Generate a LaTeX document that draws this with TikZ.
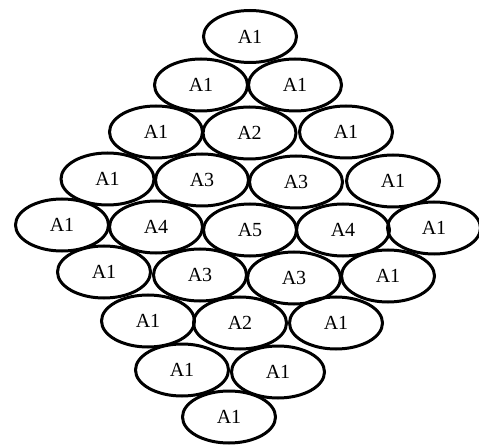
\documentclass[tikz,border=0pt]{standalone}
\usepackage{fontspec}
\setmainfont{Liberation Serif}
\usetikzlibrary{shapes.geometric}
\begin{document}
\begin{tikzpicture}[x=1pt,y=-1pt,
  cell/.style={ellipse,draw=black,line width=3pt,minimum width=93pt,minimum height=52pt,inner sep=0pt,font=\fontsize{20}{22}\selectfont}]
\useasboundingbox (0,0) rectangle (479,446);
% row 1
\node[cell] (r1a) at (250,36.5) {A1};
% row 2
\node[cell] (r2a) at (201,85) {A1};
\node[cell] (r2b) at (295,85) {A1};
% row 3
\node[cell] (r3a) at (156,132) {A1};
\node[cell] (r3b) at (249.5,133) {A2};
\node[cell] (r3c) at (346,132) {A1};
% row 4
\node[cell] (r4a) at (107.5,179) {A1};
\node[cell] (r4b) at (202,180) {A3};
\node[cell] (r4c) at (296,182) {A3};
\node[cell] (r4d) at (393,181) {A1};
% row 5
\node[cell] (r5a) at (62,225) {A1};
\node[cell] (r5b) at (156,227) {A4};
\node[cell] (r5c) at (250,230) {A5};
\node[cell] (r5d) at (343,230) {A4};
\node[cell] (r5e) at (434,228) {A1};
% row 6
\node[cell] (r6a) at (104,272) {A1};
\node[cell] (r6b) at (200,275) {A3};
\node[cell] (r6c) at (294,278) {A3};
\node[cell] (r6d) at (388,276) {A1};
% row 7
\node[cell] (r7a) at (148,321) {A1};
\node[cell] (r7b) at (240,323) {A2};
\node[cell] (r7c) at (336,323) {A1};
% row 8
\node[cell] (r8a) at (182,370) {A1};
\node[cell] (r8b) at (278,372) {A1};
% row 9
\node[cell] (r9a) at (229,417) {A1};
\end{tikzpicture}
\end{document}
